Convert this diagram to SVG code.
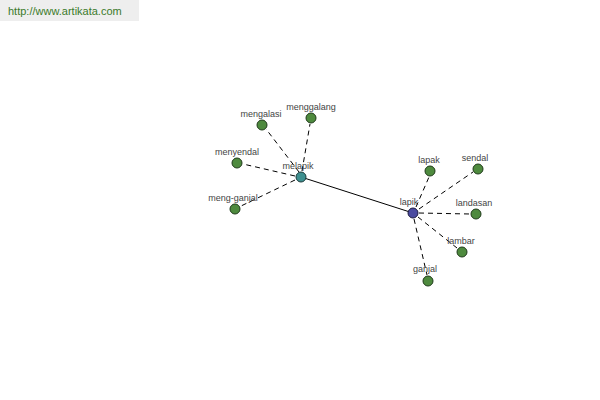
<svg xmlns="http://www.w3.org/2000/svg" width="600" height="400" viewBox="0 0 600 400">
<style>
.lbl{font-family:"Liberation Sans",Arial,sans-serif;font-size:9px;fill:#444;text-anchor:middle}
.leaf{fill:#4e8a3e;stroke:#1f3a1a;stroke-width:1}
.d{stroke:#000;stroke-width:1;stroke-dasharray:5,4;fill:none}
</style>
<rect width="600" height="400" fill="#fff"/>
<g id="banner">
<rect x="0" y="0" width="139" height="21" fill="#eeeeee"/>
<text x="8" y="15" style="font-family:'Liberation Sans',Arial,sans-serif;font-size:11px;fill:#3a7a2a">http://www.artikata.com</text>
</g>
<g id="connectors">
<line x1="301" y1="177" x2="413" y2="213" stroke="#000" stroke-width="1"/>
<line class="d" x1="299" y1="172" x2="266" y2="129"/>
<line class="d" x1="302" y1="171" x2="310" y2="124"/>
<line class="d" x1="295" y1="176" x2="243" y2="164"/>
<line class="d" x1="295" y1="180" x2="241" y2="206"/>
<line class="d" x1="416" y1="207" x2="429" y2="177"/>
<line class="d" x1="419" y1="209" x2="473" y2="172"/>
<line class="d" x1="419" y1="213" x2="470" y2="214"/>
<line class="d" x1="418" y1="217" x2="457" y2="248"/>
<line class="d" x1="414" y1="219" x2="427" y2="275"/>
</g>
<g id="melapik"><circle cx="301" cy="177" r="5" fill="#3d8f8f" stroke="#1a3a3a"/><text class="lbl" x="298" y="169">melapik</text></g>
<g id="lapik"><circle cx="413" cy="213" r="5" fill="#4a4aa0" stroke="#1a1a40"/><text class="lbl" x="409" y="205">lapik</text></g>
<g id="mengalasi"><circle class="leaf" cx="262" cy="125" r="5"/><text class="lbl" x="261" y="117">mengalasi</text></g>
<g id="menggalang"><circle class="leaf" cx="311" cy="118" r="5"/><text class="lbl" x="311" y="110">menggalang</text></g>
<g id="menyendal"><circle class="leaf" cx="237" cy="163" r="5"/><text class="lbl" x="237" y="155">menyendal</text></g>
<g id="meng-ganjal"><circle class="leaf" cx="235" cy="209" r="5"/><text class="lbl" x="233" y="201">meng-ganjal</text></g>
<g id="lapak"><circle class="leaf" cx="430" cy="171" r="5"/><text class="lbl" x="429" y="163">lapak</text></g>
<g id="sendal"><circle class="leaf" cx="478" cy="169" r="5"/><text class="lbl" x="475" y="161">sendal</text></g>
<g id="landasan"><circle class="leaf" cx="476" cy="214" r="5"/><text class="lbl" x="474" y="206">landasan</text></g>
<g id="lambar"><circle class="leaf" cx="462" cy="252" r="5"/><text class="lbl" x="461" y="244">lambar</text></g>
<g id="ganjal"><circle class="leaf" cx="428" cy="281" r="5"/><text class="lbl" x="425" y="272">ganjal</text></g>
</svg>
